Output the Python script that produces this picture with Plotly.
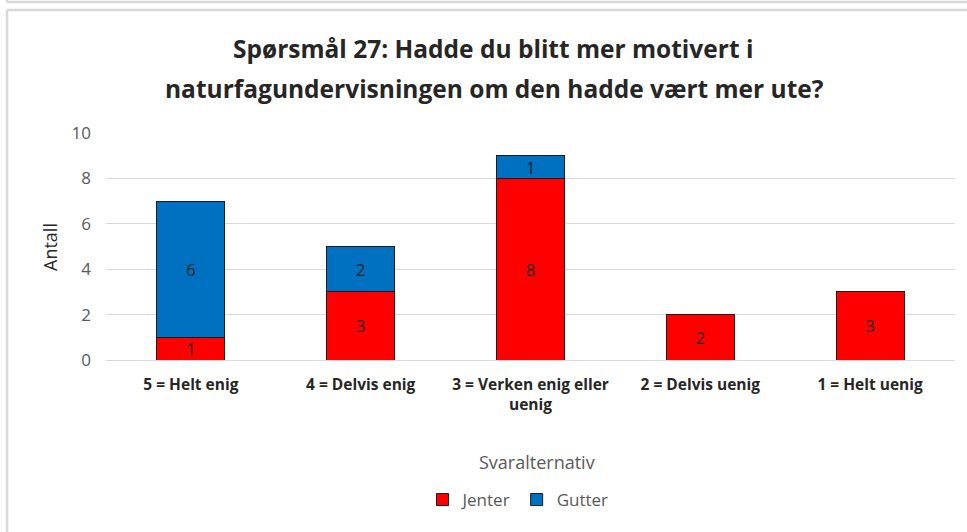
import plotly.graph_objects as go

categories = ["5 = Helt enig", "4 = Delvis enig", "3 = Verken enig eller<br>uenig",
              "2 = Delvis uenig", "1 = Helt uenig"]
jenter = [1, 3, 8, 2, 3]
gutter = [6, 2, 1, 0, 0]
y_ticks = [0, 2, 4, 6, 8, 10]

W, H = 967, 532
ML, MR, MT, MB = 106, 12, 133, 172
PW = W - ML - MR
PH = H - MT - MB

def px(x):
    return (x - ML) / PW

def py(y):
    return (H - MB - y) / PH

FONT = "Open Sans, Lato, sans-serif"
TXT = "#595959"
DARK = "#262626"

fig = go.Figure()
for name, vals, col in [("Jenter", jenter, "#FF0000"), ("Gutter", gutter, "#0070C0")]:
    fig.add_trace(go.Bar(
        x=categories, y=vals, name=name,
        marker=dict(color=col, line=dict(color="#1a1a1a", width=1)),
        text=[str(v) if v else "" for v in vals], textposition="inside",
        insidetextanchor="middle", textangle=0, constraintext="none",
        textfont=dict(color=DARK, size=17, family=FONT),
        hoverinfo="skip",
    ))

fig.update_layout(
    width=W, height=H,
    margin=dict(l=ML, r=MR, t=MT, b=MB, autoexpand=False),
    barmode="stack", bargap=0.6,
    paper_bgcolor="white", plot_bgcolor="white",
    font=dict(family=FONT, color=TXT),
    showlegend=True,
    legend=dict(orientation="h", x=px(518), xanchor="center", y=py(500), yanchor="middle",
                traceorder="normal", font=dict(size=17, color=TXT), itemwidth=30),
    xaxis=dict(showgrid=False, showline=True, linecolor="#D9D9D9", linewidth=1,
               tickfont=dict(size=15.5, color=DARK, family=FONT, weight="bold"),
               ticks="", ticklabelstandoff=10, fixedrange=True),
    yaxis=dict(range=[0, 10], tickvals=y_ticks, showgrid=True, gridcolor="#D9D9D9",
               gridwidth=1, zeroline=False, showline=False,
               tickfont=dict(size=17, color=TXT), ticklabelstandoff=14, fixedrange=True),
    uniformtext=dict(mode="show", minsize=17),
)

annotations = [
    dict(text="<b>Spørsmål 27: Hadde du blitt mer motivert i</b>", x=px(493), y=py(48),
         font=dict(size=24.5, color=DARK)),
    dict(text="<b>naturfagundervisningen om den hadde vært mer ute?</b>", x=px(494), y=py(88),
         font=dict(size=24.5, color=DARK)),
    dict(text="Antall", x=px(50), y=py(247), textangle=-90, font=dict(size=18, color=DARK)),
    dict(text="Svaralternativ", x=px(537), y=py(462), font=dict(size=18, color=TXT)),
]
for a in annotations:
    a.update(xref="paper", yref="paper", showarrow=False, xanchor="center", yanchor="middle")
fig.update_layout(annotations=annotations)

FR = "#D9D9D9"
shapes = [
    dict(type="line", x0=px(7), x1=px(967), y0=py(2), y1=py(2)),
    dict(type="line", x0=px(7), x1=px(7), y0=py(0), y1=py(2)),
    dict(type="line", x0=px(7), x1=px(967), y0=py(10), y1=py(10)),
    dict(type="line", x0=px(7), x1=px(7), y0=py(10), y1=py(532)),
]
for s in shapes:
    s.update(xref="paper", yref="paper", line=dict(color=FR, width=2.5), layer="above")
fig.update_layout(shapes=shapes)

fig.write_html("out.html", config={"displayModeBar": False},
               post_script="document.body.style.margin='0';document.body.style.padding='0';")
